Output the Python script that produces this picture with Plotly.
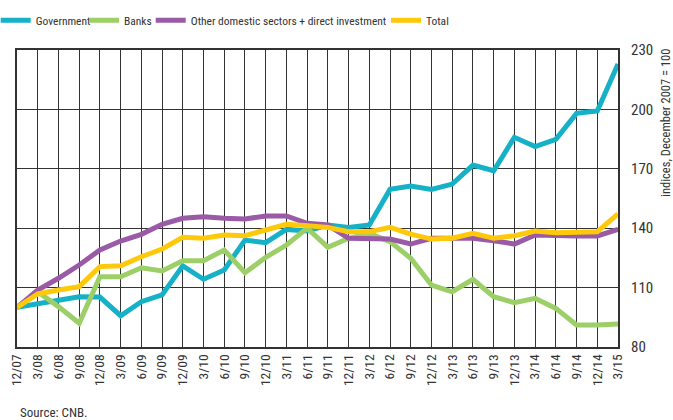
import plotly.graph_objects as go

quarters = ["12/07", "3/08", "6/08", "9/08", "12/08", "3/09", "6/09", "9/09", "12/09", "3/10",
            "6/10", "9/10", "12/10", "3/11", "6/11", "9/11", "12/11", "3/12", "6/12", "9/12",
            "12/12", "3/13", "6/13", "9/13", "12/13", "3/14", "6/14", "9/14", "12/14", "3/15"]

government = [100, 102, 104, 105.4, 105.2, 95.8, 102.9, 106.3, 121, 114.2,
              118.9, 134, 132.7, 139.4, 138.6, 141.6, 140.4, 141.6, 159.6, 161.3,
              159.6, 162.3, 171.9, 169, 185.9, 181.2, 184.9, 198, 199.2, 222.9]
banks = [100, 107.9, 100.4, 92, 115.5, 115.5, 120, 118.4, 123.6, 123.6,
         129, 117.5, 125.3, 131.5, 140, 130.4, 134.9, 137.4, 133.2, 124.8,
         111.3, 107.9, 114.2, 105.4, 102.4, 104.6, 99.5, 91.1, 91.1, 91.6]
other = [100, 108.8, 114.7, 121.4, 129, 133.5, 136.9, 142, 145, 145.8,
         145, 144.6, 146.2, 146.2, 142.5, 141.6, 134.9, 134.9, 134.5, 132,
         134.9, 134.9, 134.9, 133.7, 132, 136.6, 136.1, 136.1, 136.1, 139.4]
total = [100, 106.8, 108.8, 110.5, 120.6, 121, 125.6, 129.5, 135.4, 134.9,
         136.6, 136.2, 139.1, 142, 141.3, 140.4, 138.2, 138.2, 140.4, 137,
         134.5, 134.9, 137.4, 134.9, 136.2, 138.6, 137.7, 137.9, 138.2, 147.2]

y_ticks = [80, 110, 140, 170, 200, 230]

series = [
    ("Government", government, "#16b1c6"),
    ("Banks", banks, "#9ccf68"),
    ("Other domestic sectors + direct investment", other, "#9b5aa6"),
    ("Total", total, "#ffc90b"),
]
legend_x = [-0.0355, 0.1115, 0.2225, 0.614]

FONT = "Roboto Condensed, Liberation Sans Narrow, DejaVu Sans Condensed, Arial Narrow, sans-serif"

fig = go.Figure()
legends = {}
for k, (name, vals, col) in enumerate(series):
    lid = "legend" if k == 0 else f"legend{k + 1}"
    fig.add_trace(go.Scatter(x=quarters, y=vals, mode="lines", name=name,
                             line=dict(color=col, width=5), legend=lid))
    legends[lid] = dict(orientation="h", x=legend_x[k], xanchor="left",
                        yref="container", y=0.952, yanchor="middle",
                        font=dict(size=11.5, color="#333333"),
                        bgcolor="rgba(0,0,0,0)", borderwidth=0)

fig.update_layout(
    width=673, height=420,
    margin=dict(l=17, r=55, t=50, b=73, autoexpand=False),
    paper_bgcolor="white", plot_bgcolor="white",
    font=dict(family=FONT, size=14, color="#333333"),
    showlegend=True,
    annotations=[
        dict(text="Source: CNB.", xref="paper", yref="paper", x=0.002, y=-0.19,
             xanchor="left", yanchor="top", showarrow=False,
             font=dict(size=13, color="#333333")),
        dict(text="indices, December 2007 = 100", xref="paper", yref="paper",
             x=1.078, y=1.01, xanchor="center", yanchor="top", textangle=-90,
             showarrow=False, font=dict(size=12.5, color="#333333")),
    ],
    **legends,
)
fig.update_xaxes(type="category", range=[0, len(quarters) - 1], tickangle=-90,
                 showgrid=True, gridcolor="#333333", gridwidth=1,
                 showline=True, linecolor="#333333", linewidth=2, mirror=True,
                 ticks="", tickfont=dict(size=13.5), automargin=False)
fig.update_yaxes(side="right", range=[80, 230], tickvals=y_ticks,
                 showgrid=True, gridcolor="#333333", gridwidth=1,
                 showline=True, linecolor="#333333", linewidth=2, mirror=True,
                 ticks="", ticklabelstandoff=8, tickfont=dict(size=15),
                 zeroline=False, automargin=False)

fig.write_html("out.html", config={"displayModeBar": False},
               post_script="document.body.style.margin='0px';")
